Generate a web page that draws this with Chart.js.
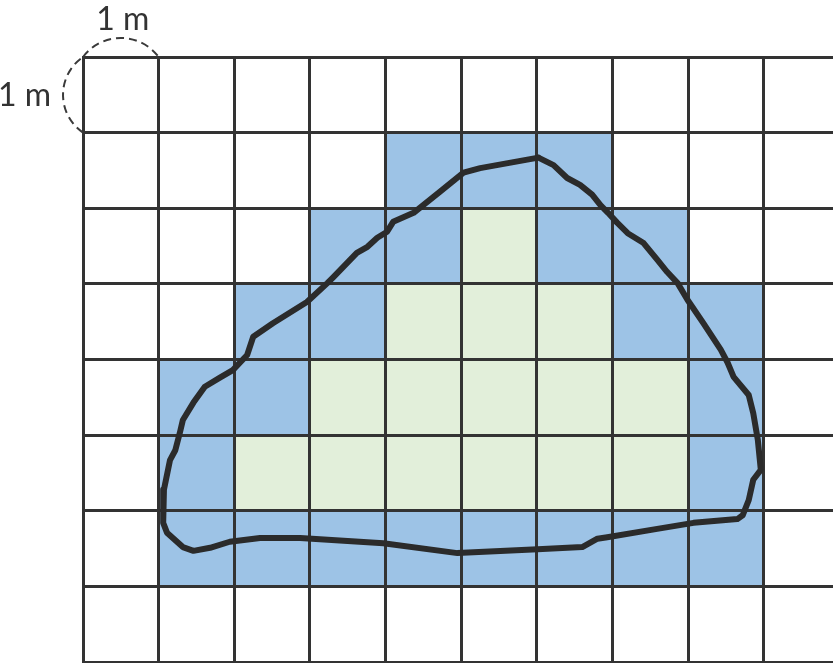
<!DOCTYPE html>
<html>
<head>
<meta charset="utf-8">
<script src="https://cdn.jsdelivr.net/npm/chart.js@4"></script>
<style>
  html, body { margin: 0; padding: 0; background: #fff; }
  canvas { display: block; }
</style>
</head>
<body>
<canvas id="gridChart" width="833" height="663"></canvas>
<script>
// cell fill per row, top row first: 0 = empty, 1 = partly covered, 2 = fully covered
const cellRows = [
    [0, 0, 0, 0, 0, 0, 0, 0, 0, 0],
    [0, 0, 0, 0, 1, 1, 1, 0, 0, 0],
    [0, 0, 0, 1, 1, 2, 1, 1, 0, 0],
    [0, 0, 1, 1, 2, 2, 2, 1, 1, 0],
    [0, 1, 1, 2, 2, 2, 2, 2, 1, 0],
    [0, 1, 2, 2, 2, 2, 2, 2, 1, 0],
    [0, 1, 1, 1, 1, 1, 1, 1, 1, 0],
    [0, 0, 0, 0, 0, 0, 0, 0, 0, 0]
];
const cellColors = ['#ffffff', '#9dc3e6', '#e2efda'];

// traced outline of the shape, in grid units (x from left, y from bottom)
const outlineX = [6.02, 5.25, 5.03, 4.72, 4.37, 4.10, 4.02, 3.89, 3.76, 3.62, 3.31, 3.23, 2.96, 2.51, 2.25, 2.17,
    1.98, 1.81, 1.61, 1.46, 1.32, 1.28, 1.22, 1.15, 1.07, 1.06, 1.11, 1.32, 1.46, 1.68, 1.94, 2.34, 2.87, 3.97,
    4.95, 6.01, 6.60, 6.80, 6.93, 7.59, 8.07, 8.65, 8.72, 8.80, 8.86, 8.96, 8.92, 8.86, 8.80, 8.60, 8.52, 8.43,
    8.20, 7.99, 7.86, 7.72, 7.59, 7.41, 7.20, 7.06, 6.94, 6.84, 6.73, 6.57, 6.40, 6.22, 6.02];
const outlineY = [6.67, 6.53, 6.47, 6.22, 5.94, 5.82, 5.69, 5.61, 5.49, 5.41, 5.09, 5.01, 4.76, 4.48, 4.30, 4.06,
    3.86, 3.76, 3.64, 3.43, 3.20, 3.03, 2.80, 2.67, 2.28, 1.84, 1.71, 1.52, 1.47, 1.51, 1.59, 1.64, 1.64, 1.57,
    1.44, 1.49, 1.52, 1.63, 1.65, 1.76, 1.84, 1.89, 1.94, 2.14, 2.41, 2.54, 2.94, 3.29, 3.53, 3.77, 3.96, 4.13,
    4.48, 4.79, 5.01, 5.16, 5.32, 5.54, 5.67, 5.81, 5.94, 6.04, 6.18, 6.31, 6.40, 6.57, 6.67];

const scaleLabel = '1 m';
const xMax = 9.914; // the last column is cut by the page edge
const yMax = cellRows.length;

const cellPlugin = {
    id: 'cells',
    beforeDraw(chart) {
        const ctx = chart.ctx;
        const xs = chart.scales.x, ys = chart.scales.y;
        ctx.save();
        cellRows.forEach((row, r) => {
            row.forEach((v, c) => {
                if (!v) return;
                const x0 = xs.getPixelForValue(c), x1 = xs.getPixelForValue(c + 1);
                const y0 = ys.getPixelForValue(yMax - r), y1 = ys.getPixelForValue(yMax - r - 1);
                ctx.fillStyle = cellColors[v];
                ctx.fillRect(x0, y0, x1 - x0, y1 - y0);
            });
        });
        ctx.restore();
    },
    afterDraw(chart) {
        const ctx = chart.ctx;
        const xs = chart.scales.x, ys = chart.scales.y;
        const cx = xs.getPixelForValue(0), cy = ys.getPixelForValue(yMax);
        const rx = xs.getPixelForValue(1), by = ys.getPixelForValue(yMax - 1);

        // dashed arc between two points bulging outward by sag
        function arcBetween(ax, ay, bx, by2, sag, nx, ny) {
            const chord = Math.hypot(bx - ax, by2 - ay);
            const r = (chord * chord / 4 + sag * sag) / (2 * sag);
            const mx = (ax + bx) / 2, my = (ay + by2) / 2;
            const ox = mx - nx * (r - sag), oy = my - ny * (r - sag);
            const a0 = Math.atan2(ay - oy, ax - ox), a1 = Math.atan2(by2 - oy, bx - ox);
            ctx.beginPath();
            ctx.arc(ox, oy, r, a0, a1, false);
            ctx.stroke();
        }
        ctx.save();
        ctx.strokeStyle = '#3a3a3a';
        ctx.lineWidth = 2;
        ctx.setLineDash([8, 5]);
        arcBetween(cx, cy, rx, cy, 19, 0, -1);
        arcBetween(cx, by, cx, cy, 20, -1, 0);
        ctx.setLineDash([]);

        ctx.fillStyle = '#333';
        ctx.font = '32px Lato';
        ctx.textAlign = 'center';
        ctx.textBaseline = 'alphabetic';
        ctx.fillText(scaleLabel, (cx + rx) / 2 + 2, cy - 27);
        ctx.textAlign = 'right';
        ctx.fillText(scaleLabel, cx - 32, (cy + by) / 2 + 11);
        ctx.restore();
    }
};

new Chart(document.getElementById('gridChart').getContext('2d'), {
    type: 'scatter',
    data: {
        datasets: [{
            data: outlineX.map((x, i) => ({ x: x, y: outlineY[i] })),
            showLine: true,
            borderColor: '#2b2b2b',
            borderWidth: 6,
            borderJoinStyle: 'round',
            borderCapStyle: 'round',
            pointRadius: 0,
            tension: 0
        }]
    },
    plugins: [cellPlugin],
    options: {
        responsive: false,
        animation: false,
        devicePixelRatio: 1,
        layout: { padding: { left: 83, top: 57, right: 0, bottom: 1 } },
        plugins: {
            legend: { display: false },
            tooltip: { enabled: false }
        },
        scales: {
            x: {
                type: 'linear',
                min: 0,
                max: xMax,
                ticks: { display: false, stepSize: 1, includeBounds: false },
                grid: { color: '#333', lineWidth: 3, drawTicks: false },
                border: { color: '#333', width: 3 }
            },
            y: {
                type: 'linear',
                min: 0,
                max: yMax,
                ticks: { display: false, stepSize: 1 },
                grid: { color: '#333', lineWidth: 3, drawTicks: false },
                border: { color: '#333', width: 3 }
            }
        }
    }
});
</script>
</body>
</html>
